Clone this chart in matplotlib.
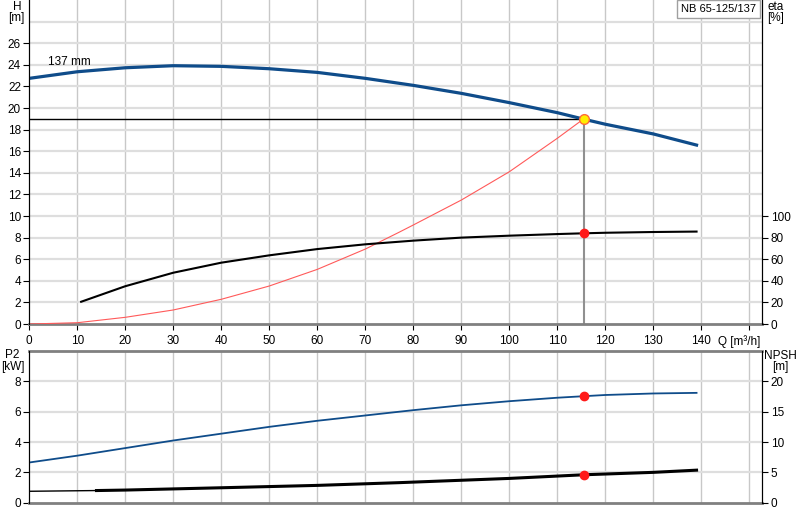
import matplotlib
matplotlib.use('Agg')
import matplotlib.pyplot as plt

plt.rcParams.update({'font.family': ['Liberation Sans', 'DejaVu Sans'], 'font.size': 8.5})

# ---- data ----
q_h = [0, 10, 20, 30, 40, 50, 60, 70, 80, 90, 100, 110, 115.5, 120, 130, 139]
h_curve = [22.75, 23.36, 23.73, 23.92, 23.86, 23.64, 23.3, 22.75, 22.1, 21.36, 20.5, 19.57, 18.97, 18.5, 17.6, 16.57]

q_sys = [0, 10, 20, 30, 40, 50, 60, 70, 77, 80, 90, 100, 110, 115.5]
h_sys = [0, 0.12, 0.62, 1.3, 2.29, 3.52, 5.06, 6.94, 8.49, 9.17, 11.48, 14.1, 17.2, 19.0]

q_eta = [10.8, 20, 30, 40, 50, 60, 70, 80, 90, 100, 110, 115.5, 120, 130, 139]
eta = [20.6, 35, 47.5, 56.8, 63.6, 69.4, 73.8, 77.2, 80, 81.8, 83.3, 84.0, 84.5, 85.2, 85.6]

q_p2 = [0, 10, 20, 30, 40, 50, 60, 70, 80, 90, 100, 110, 115.5, 120, 130, 139]
p2 = [2.65, 3.1, 3.6, 4.1, 4.55, 5.0, 5.4, 5.75, 6.1, 6.42, 6.69, 6.92, 7.02, 7.1, 7.2, 7.24]

q_npsh = [0, 14, 20, 40, 60, 77, 100, 115.5, 130, 139]
npsh = [1.88, 2.0, 2.08, 2.46, 2.85, 3.3, 4.0, 4.6, 5.0, 5.36]

q_op = 115.5
h_op = 19.0
eta_op = 84.0
p2_op = 7.02
npsh_op = 4.6

x_ticks = [0, 10, 20, 30, 40, 50, 60, 70, 80, 90, 100, 110, 120, 130, 140, 150]
h_ticks = [0, 2, 4, 6, 8, 10, 12, 14, 16, 18, 20, 22, 24, 26]
eta_ticks = [0, 20, 40, 60, 80, 100]
p2_ticks = [0, 2, 4, 6, 8]
npsh_ticks = [0, 5, 10, 15, 20]

blue = '#0f4c8a'
grid_v = '#c8c8c8'
grid_h = '#dedede'
spine_grey = '#808080'

fig = plt.figure(figsize=(8, 5.2), dpi=100)
ax = fig.add_axes([0.0366, 0.3769, 0.9163, 0.623])
axb = fig.add_axes([0.0366, 0.0333, 0.9163, 0.2917])
xmax = 152.7

def style(a, grey_top):
    a.set_xlim(0, xmax)
    a.spines['left'].set_color('black')
    a.spines['right'].set_color('black')
    a.spines['bottom'].set_color(spine_grey)
    a.spines['bottom'].set_linewidth(2)
    if grey_top:
        a.spines['top'].set_color(spine_grey)
        a.spines['top'].set_linewidth(2)
    else:
        a.spines['top'].set_visible(False)
    for q in x_ticks[1:]:
        a.axvline(q, color=grid_v, lw=1, zorder=0)

# ---- top: head / efficiency ----
style(ax, False)
ax.set_ylim(0, 30)
for h in h_ticks[1:] + [28]:
    ax.axhline(h, color=grid_h, lw=1.6, zorder=0)
ax.set_xticks(x_ticks)
ax.set_xticklabels([str(t) for t in x_ticks[:-1]] + [''])
ax.set_yticks(h_ticks)
ax.tick_params(axis='both', direction='out', length=4, width=0.8, pad=2, labelsize=8.5)
ax.tick_params(axis='x', pad=4)

ax.plot(q_sys, h_sys, color='#ff5a5a', lw=0.8, zorder=3)
ax.plot(q_h, h_curve, color=blue, lw=2.3, zorder=4)
ax.plot([0, q_op], [h_op, h_op], color='black', lw=1, zorder=3)
ax.plot([q_op, q_op], [0, h_op], color='#909090', lw=1.5, zorder=2)
ax.plot(q_op, h_op, 'o', ms=7, mfc='#ffee00', mec='#ff6a3a', mew=1, zorder=6)
ax.text(3.9, 24.3, '137 mm', ha='left', va='center', fontsize=8.5)

ax.text(-2.6, 29.35, 'H', ha='center', va='center', fontsize=8.5)
ax.text(-2.6, 28.3, '[m]', ha='center', va='center', fontsize=8.5)
ax.text(147.9, -1.0, 'Q [m³/h]', ha='center', va='top', fontsize=8.5)
ax.text(143.6, 29.15, 'NB 65-125/137', ha='center', va='center', fontsize=8,
        bbox=dict(boxstyle='square,pad=0.35', fc='white', ec='#a0a0a0', lw=1))

axe = ax.twinx()
axe.set_ylim(0, 300)
axe.set_yticks(eta_ticks)
axe.spines['top'].set_visible(False)
axe.spines['bottom'].set_visible(False)
axe.tick_params(axis='y', direction='out', length=4, width=0.8, pad=2, labelsize=8.5)
axe.plot(q_eta, eta, color='black', lw=1.5, zorder=4)
axe.plot(q_op, eta_op, 'o', ms=6, color='#ff1a1a', zorder=6)
axe.text(xmax + 1, 293.5, 'eta', ha='left', va='center', fontsize=8.5)
axe.text(xmax + 1, 283, '[%]', ha='left', va='center', fontsize=8.5)

# ---- bottom: power / NPSH ----
style(axb, True)
axb.set_ylim(0, 10)
for p in p2_ticks[1:]:
    axb.axhline(p, color=grid_h, lw=1.6, zorder=0)
axb.set_xticks([])
axb.set_yticks(p2_ticks)
axb.tick_params(axis='y', direction='out', length=4, width=0.8, pad=2, labelsize=8.5)
axb.plot(q_p2, p2, color=blue, lw=1.3, zorder=4)
axb.plot(q_op, p2_op, 'o', ms=6, color='#ff1a1a', zorder=6)
axb.text(-3.5, 9.72, 'P2', ha='center', va='center', fontsize=8.5)
axb.text(-3.5, 8.95, '[kW]', ha='center', va='center', fontsize=8.5)

axn = axb.twinx()
axn.set_ylim(0, 25)
axn.set_yticks(npsh_ticks)
axn.spines['top'].set_visible(False)
axn.spines['bottom'].set_visible(False)
axn.tick_params(axis='y', direction='out', length=4, width=0.8, pad=2, labelsize=8.5)
axn.plot(q_npsh[:2], npsh[:2], color='black', lw=1, zorder=4)
axn.plot(q_npsh[1:], npsh[1:], color='black', lw=2.2, zorder=4)
axn.plot(q_op, npsh_op, 'o', ms=6, color='#ff1a1a', zorder=6)
axn.text(xmax + 3.8, 24.2, 'NPSH', ha='center', va='center', fontsize=8.5)
axn.text(xmax + 3.8, 22.4, '[m]', ha='center', va='center', fontsize=8.5)

fig.savefig('out.png', dpi=100)
